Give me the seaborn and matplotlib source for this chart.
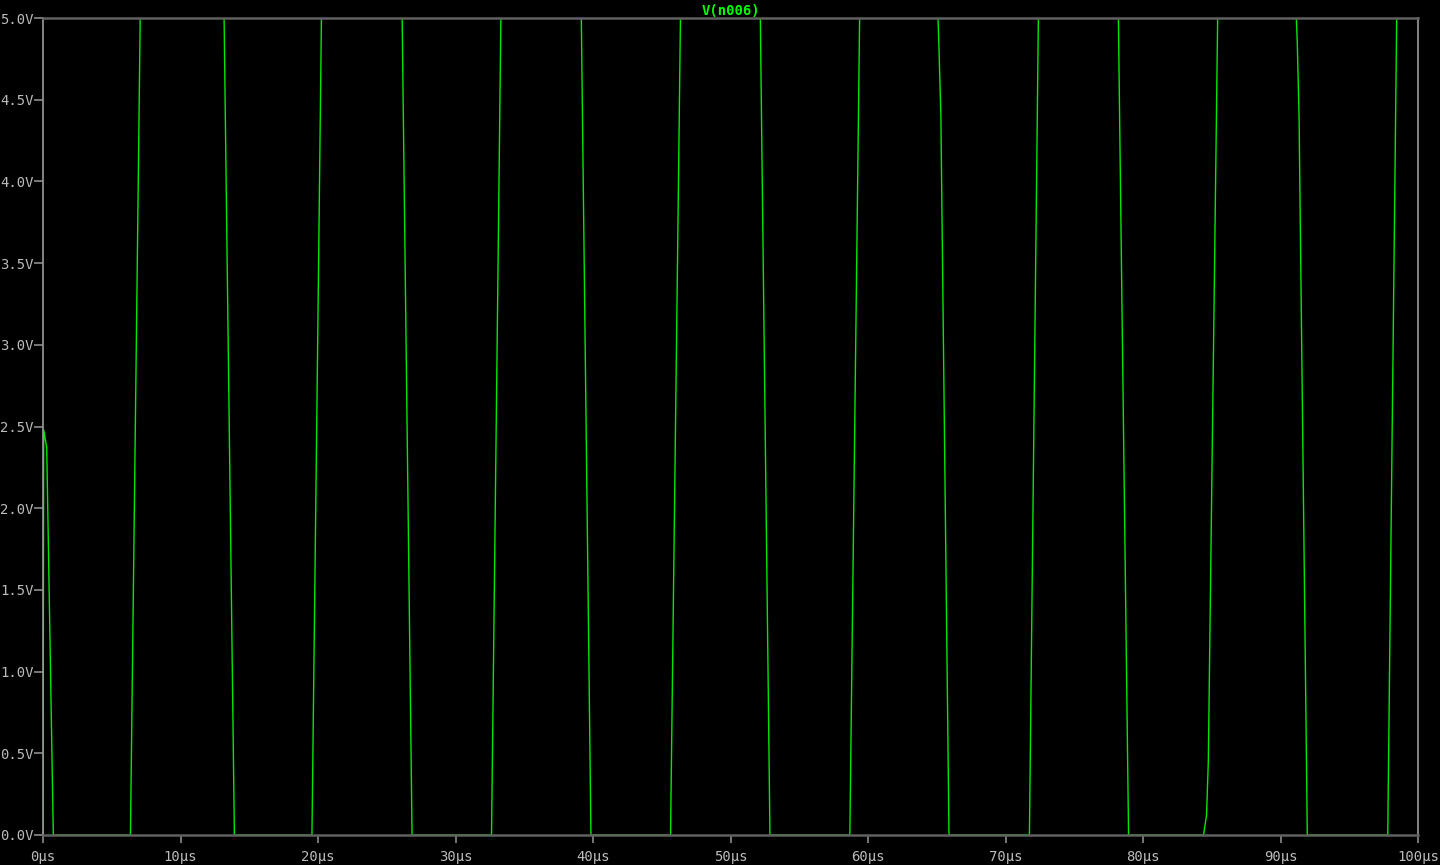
import matplotlib
matplotlib.use("Agg")
import matplotlib.pyplot as plt
import seaborn as sns
import pandas as pd

# Data (time in µs, voltage in V)
time_us = [0, 0.05, 0.27, 0.75, 6.36, 7.07, 13.17, 13.92, 19.56, 20.25,
           26.12, 26.84, 32.62, 33.3, 39.15, 39.85, 45.64, 46.36, 52.17, 52.87,
           58.68, 59.39, 65.09, 65.15, 65.3, 65.89, 71.74, 72.39, 78.21, 78.95,
           84.4, 84.62, 84.75, 85.43, 91.15, 91.22, 91.35, 91.95, 97.8, 98.45, 100]
volts = [0, 2.48, 2.37, 0, 0, 5, 5, 0, 0, 5,
         5, 0, 0, 5, 5, 0, 0, 5, 5, 0,
         0, 5, 5, 4.85, 4.4, 0, 0, 5, 5, 0,
         0, 0.12, 0.45, 5, 5, 4.85, 4.4, 0, 0, 5, 5]

x_ticks = [0, 10, 20, 30, 40, 50, 60, 70, 80, 90, 100]
x_labels = ["0µs", "10µs", "20µs", "30µs", "40µs", "50µs", "60µs", "70µs", "80µs", "90µs", "100µs"]
y_ticks = [0.0, 0.5, 1.0, 1.5, 2.0, 2.5, 3.0, 3.5, 4.0, 4.5, 5.0]
y_labels = ["0.0V", "0.5V", "1.0V", "1.5V", "2.0V", "2.5V", "3.0V", "3.5V", "4.0V", "4.5V", "5.0V"]
trace_name = "V(n006)"

sns.set_style("dark")
plt.rcParams['font.family'] = ['DejaVu Sans Mono', 'DejaVu Sans']

df = pd.DataFrame({"t": time_us, "v": volts})

fig = plt.figure(figsize=(14.4, 8.65), dpi=100, facecolor="black")
ax = fig.add_axes([43/1440, 1-835/865, (1418-43)/1440, (835-18)/865])
ax.set_facecolor("black")

sns.lineplot(data=df, x="t", y="v", ax=ax, color="#00e800", linewidth=1.0,
             estimator=None, sort=False)

ax.set_xlim(0, 100)
ax.set_ylim(0, 5)
ax.set_xticks(x_ticks)
ax.set_xticklabels(x_labels)
ax.set_yticks(y_ticks)
ax.set_yticklabels(y_labels)
ax.set_xlabel("")
ax.set_ylabel("")
ax.grid(False)

ax.tick_params(axis="both", which="major", direction="out", width=1.2,
               color="#8c8c8c", labelcolor="#bcbcbc", labelsize=10,
               bottom=True, left=True)
ax.tick_params(axis="y", length=6.6, pad=0.1)
ax.tick_params(axis="x", length=6, pad=5)

for side in ["left", "right"]:
    ax.spines[side].set_color("#9a9a9a")
    ax.spines[side].set_linewidth(1.2)
    ax.spines[side].set_visible(True)
for side in ["top", "bottom"]:
    ax.spines[side].set_color("#606060")
    ax.spines[side].set_linewidth(1.8)
    ax.spines[side].set_visible(True)

ax.set_title(trace_name, color="#00ff00", fontsize=10, fontweight="bold", pad=2)

fig.savefig("out.png", dpi=100, facecolor="black")
